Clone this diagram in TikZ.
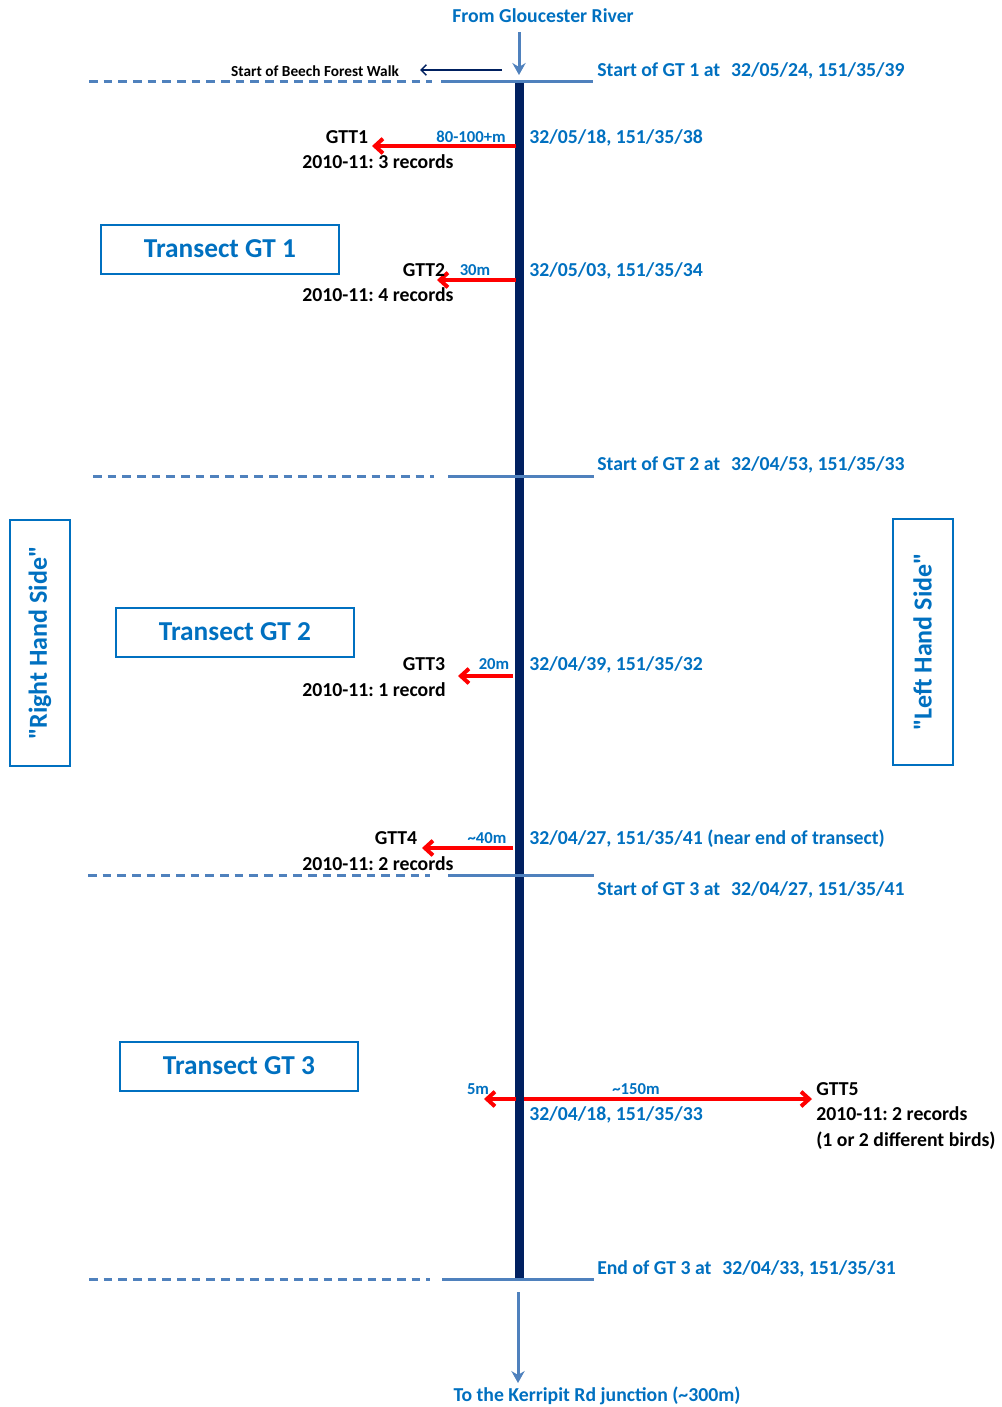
\documentclass[tikz,border=0pt]{standalone}
\usepackage{fontspec}
\setmainfont{Carlito}
\usetikzlibrary{arrows.meta}
\definecolor{tblue}{HTML}{0070C0}
\definecolor{lblue}{HTML}{4F81BD}
\definecolor{navy}{HTML}{002060}
\frenchspacing
\begin{document}
\begin{tikzpicture}[x=0.75pt,y=-0.75pt,
  every node/.style={inner sep=0pt, font=\bfseries\fontsize{14.8}{17}\selectfont},
  bl/.style={text=tblue},
  bk/.style={text=black},
  sm/.style={text=tblue, font=\bfseries\fontsize{12.5}{14}\selectfont},
  hline/.style={lblue, line width=2.25pt},
  dline/.style={lblue, line width=2.25pt, dash pattern=on 6.5pt off 4.5pt},
  redarr/.style={red, line width=3pt, -{Straight Barb[length=6pt,width=11pt]}},
  flow/.style={lblue, line width=2.25pt, -{Stealth[length=9pt,width=10pt,inset=3pt]}},
  tbox/.style={draw=tblue, line width=1.5pt, text=tblue, minimum width=178.5pt, minimum height=36.75pt, font=\bfseries\fontsize{20.5}{24}\selectfont},
  sbox/.style={draw=tblue, line width=1.5pt, text=tblue, rotate=90, minimum height=45pt, minimum width=185pt, font=\bfseries\fontsize{19.5}{23}\selectfont}
]
\useasboundingbox (0,0) rectangle (1001,1407);

% main path
\coordinate (mtop) at (519,80);
\coordinate (mbot) at (519,1278);
\draw[navy, line width=6.75pt] (mtop) -- (mbot);

% top and bottom flow
\node[bl] (from) at (543,16) {From Gloucester River};
\coordinate (fa) at (519,32);
\coordinate (fb) at (519,75);
\draw[flow] (fa) -- (fb);
\coordinate (ta) at (518,1292);
\coordinate (tb) at (518,1383);
\draw[flow] (ta) -- (tb);
\node[bl] (to) at (597,1396) {To the Kerripit Rd junction (\textasciitilde300m)};

% beech forest walk
\node[bk, font=\bfseries\fontsize{11.5}{13}\selectfont] (beech) at (315,71) {Start of Beech Forest Walk};
\coordinate (ba) at (502,70);
\coordinate (bb) at (420,70);
\draw[navy, line width=1.1pt, -{Straight Barb[length=4pt,width=8pt]}] (ba) -- (bb);

% horizontal section lines
\coordinate (d1a) at (89,81);  \coordinate (d1b) at (432,81);
\coordinate (s1a) at (441,81); \coordinate (s1b) at (593,81);
\coordinate (d2a) at (93,476); \coordinate (d2b) at (434,476);
\coordinate (s2a) at (448,476);\coordinate (s2b) at (594,476);
\coordinate (d3a) at (88,875); \coordinate (d3b) at (430,875);
\coordinate (s3a) at (448,875);\coordinate (s3b) at (594,875);
\coordinate (d4a) at (89,1279);\coordinate (d4b) at (430,1279);
\coordinate (s4a) at (442,1279);\coordinate (s4b) at (594,1279);
\draw[dline] (d1a) -- (d1b); \draw[hline] (s1a) -- (s1b);
\draw[dline] (d2a) -- (d2b); \draw[hline] (s2a) -- (s2b);
\draw[dline] (d3a) -- (d3b); \draw[hline] (s3a) -- (s3b);
\draw[dline] (d4a) -- (d4b); \draw[hline] (s4a) -- (s4b);

% section labels
\node[bl, anchor=base west] (st1) at (597,76) {Start of GT 1 at\hspace{0.55em}32/05/24, 151/35/39};
\node[bl, anchor=base west] (st2) at (597,470) {Start of GT 2 at\hspace{0.55em}32/04/53, 151/35/33};
\node[bl, anchor=base west] (st3) at (597,895) {Start of GT 3 at\hspace{0.55em}32/04/27, 151/35/41};
\node[bl, anchor=base west] (en3) at (597,1274) {End of GT 3 at\hspace{0.55em}32/04/33, 151/35/31};

% coordinates of sightings
\node[bl, anchor=base west] (c1) at (529,143) {32/05/18, 151/35/38};
\node[bl, anchor=base west] (c2) at (529,276) {32/05/03, 151/35/34};
\node[bl, anchor=base west] (c3) at (529,670) {32/04/39, 151/35/32};
\node[bl, anchor=base west] (c4) at (529,844) {32/04/27, 151/35/41 (near end of transect)};
\node[bl, anchor=base west] (c5) at (529,1120) {32/04/18, 151/35/33};

% GTT1
\coordinate (r1a) at (516,146); \coordinate (r1b) at (372,146);
\draw[redarr] (r1a) -- (r1b);
\node[sm, anchor=base] (m1) at (471,142) {80-100+m};
\node[bk, anchor=base] (g1) at (347,143) {GTT1};
\node[bk, anchor=base] (g1r) at (378,168) {2010-11: 3 records};

% GTT2
\coordinate (r2a) at (516,280); \coordinate (r2b) at (437,280);
\draw[redarr] (r2a) -- (r2b);
\node[sm, anchor=base] (m2) at (475,275) {30m};
\node[bk, anchor=base] (g2) at (424,276) {GTT2};
\node[bk, anchor=base] (g2r) at (378,301) {2010-11: 4 records};

% GTT3
\coordinate (r3a) at (513,676); \coordinate (r3b) at (458,676);
\draw[redarr] (r3a) -- (r3b);
\node[sm, anchor=base] (m3) at (494,669) {20m};
\node[bk, anchor=base] (g3) at (424,670) {GTT3};
\node[bk, anchor=base] (g3r) at (374,696) {2010-11: 1 record};

% GTT4
\coordinate (r4a) at (513,848); \coordinate (r4b) at (422,848);
\draw[redarr] (r4a) -- (r4b);
\node[sm, anchor=base] (m4) at (487,843) {\textasciitilde40m};
\node[bk, anchor=base] (g4) at (396,844) {GTT4};
\node[bk, anchor=base] (g4r) at (378,870) {2010-11: 2 records};

% GTT5
\coordinate (r5a) at (524,1099); \coordinate (r5b) at (812,1099);
\coordinate (r6a) at (516,1099); \coordinate (r6b) at (484,1099);
\draw[redarr] (r5a) -- (r5b);
\draw[redarr] (r6a) -- (r6b);
\node[sm, anchor=base] (m5) at (478,1094) {5m};
\node[sm, anchor=base] (m6) at (636,1094) {\textasciitilde150m};
\node[bk, anchor=base west] (g5) at (816,1095) {GTT5};
\node[bk, anchor=base west] (g5r) at (816,1120) {2010-11: 2 records};
\node[bk, anchor=base west] (g5b) at (816,1146) {(1 or 2 different birds)};

% transect boxes
\node[tbox] (t1) at (220,249) {Transect GT 1};
\node[tbox] (t2) at (235,632) {Transect GT 2};
\node[tbox] (t3) at (239,1066) {Transect GT 3};

% side boxes
\node[sbox] (rhs) at (40,643) {\textquotedbl Right Hand Side\textquotedbl};
\node[sbox] (lhs) at (922.5,642) {\textquotedbl Left Hand Side\textquotedbl};
\end{tikzpicture}
\end{document}
